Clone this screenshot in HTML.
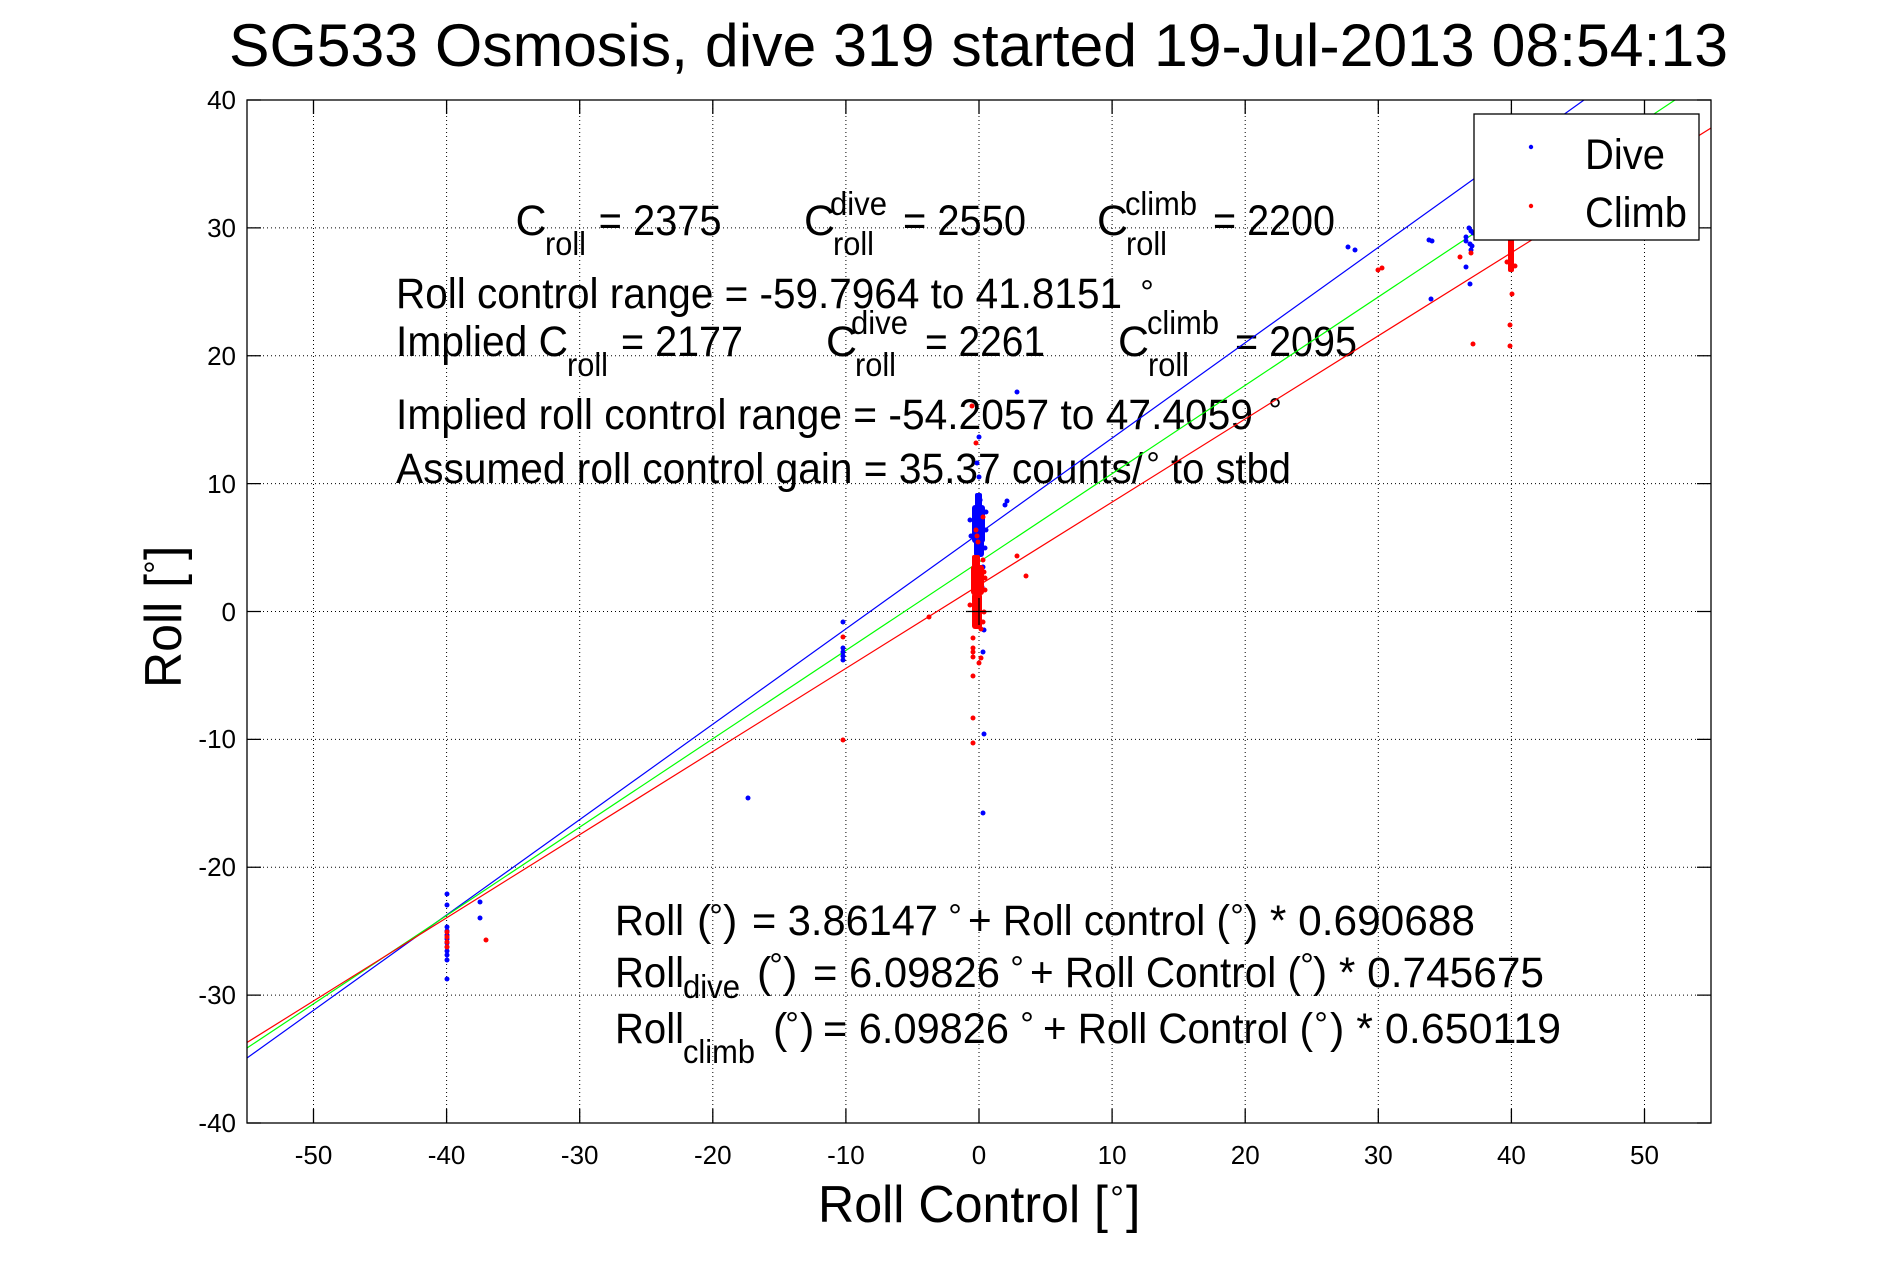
<!DOCTYPE html>
<html>
<head>
<meta charset="utf-8">
<style>
  html,body{margin:0;padding:0;background:#fff;}
  svg{display:block;}
  text{font-family:"Liberation Sans",Arial,Helvetica,sans-serif;fill:#000;}
</style>
</head>
<body>
<svg width="1891" height="1262" viewBox="0 0 1891 1262" xmlns="http://www.w3.org/2000/svg">
<rect x="0" y="0" width="1891" height="1262" fill="#fff"/>

<!-- Title -->
<text x="229" y="66" font-size="60" textLength="1499" lengthAdjust="spacingAndGlyphs">SG533 Osmosis, dive 319 started 19-Jul-2013 08:54:13</text>

<!-- plot background -->
<rect x="247" y="100" width="1464" height="1023" fill="#fff"/>

<!-- grid lines -->
<g stroke="#000" stroke-width="1" stroke-dasharray="1 3" fill="none">
  <path d="M313.5 100V1123M446.6 100V1123M579.7 100V1123M712.8 100V1123M845.9 100V1123M979 100V1123M1112.1 100V1123M1245.2 100V1123M1378.3 100V1123M1511.4 100V1123M1644.5 100V1123"/>
  <path d="M247 227.9H1711M247 355.75H1711M247 483.6H1711M247 611.5H1711M247 739.4H1711M247 867.25H1711M247 995.1H1711"/>
</g>

<!-- ticks -->
<g stroke="#000" stroke-width="1.3" fill="none">
  <path d="M313.5 1123v-14M446.6 1123v-14M579.7 1123v-14M712.8 1123v-14M845.9 1123v-14M979 1123v-14M1112.1 1123v-14M1245.2 1123v-14M1378.3 1123v-14M1511.4 1123v-14M1644.5 1123v-14"/>
  <path d="M313.5 100v14M446.6 100v14M579.7 100v14M712.8 100v14M845.9 100v14M979 100v14M1112.1 100v14M1245.2 100v14M1378.3 100v14M1511.4 100v14M1644.5 100v14"/>
  <path d="M247 100h14M247 227.9h14M247 355.75h14M247 483.6h14M247 611.5h14M247 739.4h14M247 867.25h14M247 995.1h14M247 1123h14"/>
  <path d="M1711 100h-14M1711 227.9h-14M1711 355.75h-14M1711 483.6h-14M1711 611.5h-14M1711 739.4h-14M1711 867.25h-14M1711 995.1h-14M1711 1123h-14"/>
</g>

<!-- annotation texts (drawn under data) -->
<g font-size="43">
  <!-- line 1 -->
  <text x="515.5" y="235">C</text>
  <text x="545" y="255" font-size="33" textLength="41" lengthAdjust="spacingAndGlyphs">roll</text>
  <text x="598.6" y="235" textLength="123" lengthAdjust="spacingAndGlyphs">= 2375</text>
  <text x="804" y="235">C</text>
  <text x="830" y="215" font-size="33" textLength="57" lengthAdjust="spacingAndGlyphs">dive</text>
  <text x="833" y="255" font-size="33" textLength="41" lengthAdjust="spacingAndGlyphs">roll</text>
  <text x="903" y="235" textLength="123" lengthAdjust="spacingAndGlyphs">= 2550</text>
  <text x="1097" y="235">C</text>
  <text x="1125" y="215" font-size="33" textLength="72" lengthAdjust="spacingAndGlyphs">climb</text>
  <text x="1126" y="255" font-size="33" textLength="41" lengthAdjust="spacingAndGlyphs">roll</text>
  <text x="1213" y="235" textLength="122" lengthAdjust="spacingAndGlyphs">= 2200</text>

  <!-- line 2 -->
  <text x="396" y="308" textLength="726" lengthAdjust="spacingAndGlyphs">Roll control range = -59.7964 to 41.8151</text>
  <text x="1147" y="304" font-size="34" text-anchor="middle">°</text>

  <!-- line 3 -->
  <text x="396" y="356" textLength="172" lengthAdjust="spacingAndGlyphs">Implied C</text>
  <text x="567" y="376" font-size="33" textLength="41" lengthAdjust="spacingAndGlyphs">roll</text>
  <text x="621" y="356" textLength="122" lengthAdjust="spacingAndGlyphs">= 2177</text>
  <text x="826" y="356">C</text>
  <text x="851" y="334" font-size="33" textLength="57" lengthAdjust="spacingAndGlyphs">dive</text>
  <text x="855" y="376" font-size="33" textLength="41" lengthAdjust="spacingAndGlyphs">roll</text>
  <text x="925" y="356" textLength="120" lengthAdjust="spacingAndGlyphs">= 2261</text>
  <text x="1118" y="356">C</text>
  <text x="1147" y="334" font-size="33" textLength="72" lengthAdjust="spacingAndGlyphs">climb</text>
  <text x="1148" y="376" font-size="33" textLength="41" lengthAdjust="spacingAndGlyphs">roll</text>
  <text x="1235" y="356" textLength="122" lengthAdjust="spacingAndGlyphs">= 2095</text>

  <!-- line 4 -->
  <text x="396" y="429" textLength="857" lengthAdjust="spacingAndGlyphs">Implied roll control range = -54.2057 to 47.4059</text>
  <text x="1275" y="422" font-size="34" text-anchor="middle">°</text>

  <!-- line 5 -->
  <text x="396" y="483" textLength="747" lengthAdjust="spacingAndGlyphs">Assumed roll control gain = 35.37 counts/</text>
  <text x="1153" y="476" font-size="34" text-anchor="middle">°</text>
  <text x="1171" y="483" textLength="120" lengthAdjust="spacingAndGlyphs">to stbd</text>

  <!-- lower equation A -->
  <text x="615" y="935" textLength="69" lengthAdjust="spacingAndGlyphs">Roll</text>
  <text x="697" y="935">(</text>
  <text x="716" y="928" font-size="34" text-anchor="middle">°</text>
  <text x="723" y="935">)</text>
  <text x="752" y="935" textLength="186" lengthAdjust="spacingAndGlyphs">= 3.86147</text>
  <text x="955" y="928" font-size="34" text-anchor="middle">°</text>
  <text x="968" y="935" textLength="262" lengthAdjust="spacingAndGlyphs">+ Roll control (</text>
  <text x="1237" y="928" font-size="34" text-anchor="middle">°</text>
  <text x="1244" y="935" textLength="231" lengthAdjust="spacingAndGlyphs">) * 0.690688</text>

  <!-- lower equation B -->
  <text x="615" y="987" textLength="69" lengthAdjust="spacingAndGlyphs">Roll</text>
  <text x="683" y="998" font-size="33" textLength="57" lengthAdjust="spacingAndGlyphs">dive</text>
  <text x="757" y="987">(</text>
  <text x="776" y="977" font-size="34" text-anchor="middle">°</text>
  <text x="783" y="987">)</text>
  <text x="813" y="987" textLength="187" lengthAdjust="spacingAndGlyphs">= 6.09826</text>
  <text x="1017" y="980" font-size="34" text-anchor="middle">°</text>
  <text x="1030" y="987" textLength="271" lengthAdjust="spacingAndGlyphs">+ Roll Control (</text>
  <text x="1307" y="977" font-size="34" text-anchor="middle">°</text>
  <text x="1313" y="987" textLength="231" lengthAdjust="spacingAndGlyphs">) * 0.745675</text>

  <!-- lower equation C -->
  <text x="615" y="1043" textLength="69" lengthAdjust="spacingAndGlyphs">Roll</text>
  <text x="683" y="1063" font-size="33" textLength="72" lengthAdjust="spacingAndGlyphs">climb</text>
  <text x="773" y="1043">(</text>
  <text x="792" y="1036" font-size="34" text-anchor="middle">°</text>
  <text x="800" y="1043">)</text>
  <text x="823" y="1043" textLength="186" lengthAdjust="spacingAndGlyphs">= 6.09826</text>
  <text x="1027" y="1036" font-size="34" text-anchor="middle">°</text>
  <text x="1043" y="1043" textLength="270" lengthAdjust="spacingAndGlyphs">+ Roll Control (</text>
  <text x="1321" y="1036" font-size="34" text-anchor="middle">°</text>
  <text x="1330" y="1043" textLength="231" lengthAdjust="spacingAndGlyphs">) * 0.650119</text>
</g>

<!-- fit lines, clipped to axes -->
<defs>
  <clipPath id="ax"><rect x="247" y="100" width="1464" height="1023"/></clipPath>
</defs>
<g clip-path="url(#ax)" fill="none" stroke-width="1.2">
  <line x1="247" y1="1058" x2="1584" y2="100" stroke="#0000ff"/>
  <line x1="247" y1="1048" x2="1675" y2="100" stroke="#00ff00"/>
  <line x1="247" y1="1042.5" x2="1711" y2="128" stroke="#ff0000"/>
</g>

<!-- dive points (blue) -->
<g fill="#0000ff">
  <circle cx="447" cy="894" r="2.5"/><circle cx="447" cy="905" r="2.5"/><circle cx="447" cy="927" r="2.5"/>
  <circle cx="447" cy="931" r="2.5"/><circle cx="447" cy="935" r="2.5"/><circle cx="447" cy="939" r="2.5"/>
  <circle cx="447" cy="943" r="2.5"/><circle cx="447" cy="947" r="2.5"/><circle cx="447" cy="951" r="2.5"/>
  <circle cx="447" cy="955" r="2.5"/><circle cx="447" cy="960" r="2.5"/><circle cx="447" cy="979" r="2.5"/>
  <circle cx="480" cy="902" r="2.5"/><circle cx="480" cy="918" r="2.5"/>
  <circle cx="843" cy="622" r="2.5"/><circle cx="843" cy="648" r="2.5"/><circle cx="843" cy="652" r="2.5"/>
  <circle cx="843" cy="656" r="2.5"/><circle cx="843" cy="660" r="2.5"/>
  <circle cx="748" cy="798" r="2.5"/>
  <circle cx="1017" cy="392" r="2.5"/><circle cx="979" cy="437" r="2.5"/><circle cx="977" cy="463" r="2.5"/>
  <circle cx="979" cy="477" r="2.5"/><circle cx="1007" cy="501" r="2.5"/><circle cx="1005" cy="505" r="2.5"/>
  <circle cx="983" cy="567" r="2.5"/><circle cx="982" cy="587" r="2.5"/><circle cx="984" cy="630" r="2.5"/>
  <circle cx="983" cy="652" r="2.5"/><circle cx="984" cy="734" r="2.5"/><circle cx="983" cy="813" r="2.5"/>
  <!-- center dive cluster -->
  <rect x="975" y="493" width="7" height="14" rx="2"/>
  <rect x="972" y="505" width="13" height="38" rx="3"/>
  <rect x="974" y="540" width="10" height="17" rx="3"/>
  <circle cx="986" cy="512" r="2.5"/><circle cx="970" cy="520" r="2.5"/><circle cx="986" cy="530" r="2.5"/>
  <circle cx="971" cy="536" r="2.5"/><circle cx="985" cy="548" r="2.5"/><circle cx="977" cy="559" r="2.5"/>
  <circle cx="978" cy="497" r="2.6"/><circle cx="980" cy="500" r="2.6"/>
  <!-- right -->
  <circle cx="1348" cy="247" r="2.5"/><circle cx="1355" cy="250" r="2.5"/><circle cx="1429" cy="240" r="2.5"/>
  <circle cx="1432" cy="241" r="2.5"/><circle cx="1469" cy="228" r="2.5"/><circle cx="1471" cy="231" r="2.5"/>
  <circle cx="1473" cy="233" r="2.5"/><circle cx="1466" cy="237" r="2.5"/><circle cx="1466" cy="241" r="2.5"/>
  <circle cx="1470" cy="244" r="2.5"/><circle cx="1472" cy="246" r="2.5"/><circle cx="1471" cy="250" r="2.5"/>
  <circle cx="1466" cy="267" r="2.5"/><circle cx="1470" cy="284" r="2.5"/><circle cx="1431" cy="299" r="2.5"/>
</g>

<!-- climb points (red) -->
<g fill="#ff0000">
  <circle cx="447" cy="932" r="2.5"/><circle cx="447" cy="937" r="2.5"/><circle cx="447" cy="942" r="2.5"/>
  <circle cx="447" cy="947" r="2.5"/><circle cx="486" cy="940" r="2.5"/>
  <circle cx="843" cy="637" r="2.5"/><circle cx="843" cy="740" r="2.5"/>
  <circle cx="929" cy="617" r="2.5"/>
  <circle cx="972" cy="406" r="2.5"/><circle cx="976" cy="443" r="2.5"/><circle cx="976" cy="530" r="2.5"/>
  <circle cx="977" cy="536" r="2.5"/><circle cx="978" cy="542" r="2.5"/><circle cx="983" cy="517" r="2.5"/>
  <circle cx="1017" cy="556" r="2.5"/><circle cx="1026" cy="576" r="2.5"/>
  <circle cx="973" cy="638" r="2.5"/><circle cx="973" cy="648" r="2.5"/><circle cx="973" cy="652" r="2.5"/>
  <circle cx="973" cy="657" r="2.5"/><circle cx="979" cy="663" r="2.5"/><circle cx="981" cy="658" r="2.5"/>
  <circle cx="973" cy="676" r="2.5"/><circle cx="973" cy="718" r="2.5"/><circle cx="973" cy="743" r="2.5"/>
  <circle cx="981" cy="629" r="2.5"/><circle cx="984" cy="572" r="2.5"/><circle cx="983" cy="560" r="2.5"/>
  <!-- center climb cluster -->
  <rect x="972" y="555" width="8" height="12" rx="2"/>
  <rect x="971" y="565" width="13" height="30" rx="3"/>
  <rect x="972" y="593" width="10" height="36" rx="3"/>
  <circle cx="985" cy="578" r="2.5"/><circle cx="985" cy="590" r="2.5"/><circle cx="970" cy="605" r="2.5"/>
  <circle cx="984" cy="612" r="2.5"/><circle cx="983" cy="622" r="2.5"/>
  <!-- right -->
  <circle cx="1378" cy="270" r="2.5"/><circle cx="1382" cy="268" r="2.5"/><circle cx="1460" cy="257" r="2.5"/>
  <circle cx="1471" cy="253" r="2.5"/><circle cx="1473" cy="344" r="2.5"/>
  <rect x="1508" y="228" width="6" height="44" rx="2"/>
  <circle cx="1507" cy="262" r="2.5"/><circle cx="1515" cy="266" r="2.5"/>
  <circle cx="1512" cy="294" r="2.5"/><circle cx="1510" cy="325" r="2.5"/><circle cx="1510" cy="346" r="2.5"/>
</g>

<!-- origin cross -->
<g stroke="#000" stroke-width="1.3">
  <line x1="966" y1="611.5" x2="992" y2="611.5"/>
  <line x1="979" y1="598" x2="979" y2="625"/>
</g>

<!-- axes box -->
<rect x="247" y="100" width="1464" height="1023" fill="none" stroke="#000" stroke-width="1.3"/>

<!-- legend -->
<rect x="1474" y="114" width="225" height="126" fill="#fff" stroke="#000" stroke-width="1.3"/>
<circle cx="1531" cy="147" r="2.2" fill="#0000ff"/>
<circle cx="1531" cy="206" r="2.2" fill="#ff0000"/>
<text x="1585" y="169" font-size="43" textLength="80" lengthAdjust="spacingAndGlyphs">Dive</text>
<text x="1585" y="227" font-size="43" textLength="102" lengthAdjust="spacingAndGlyphs">Climb</text>

<!-- x tick labels -->
<g font-size="26" text-anchor="middle">
  <text x="313.5" y="1164">-50</text>
  <text x="446.6" y="1164">-40</text>
  <text x="579.7" y="1164">-30</text>
  <text x="712.8" y="1164">-20</text>
  <text x="845.9" y="1164">-10</text>
  <text x="979" y="1164">0</text>
  <text x="1112.1" y="1164">10</text>
  <text x="1245.2" y="1164">20</text>
  <text x="1378.3" y="1164">30</text>
  <text x="1511.4" y="1164">40</text>
  <text x="1644.5" y="1164">50</text>
</g>

<!-- y tick labels -->
<g font-size="26" text-anchor="end">
  <text x="236" y="109">40</text>
  <text x="236" y="237">30</text>
  <text x="236" y="365">20</text>
  <text x="236" y="493">10</text>
  <text x="236" y="621">0</text>
  <text x="236" y="748">-10</text>
  <text x="236" y="876">-20</text>
  <text x="236" y="1004">-30</text>
  <text x="236" y="1132">-40</text>
</g>

<!-- x label -->
<text x="818" y="1222" font-size="52" textLength="290" lengthAdjust="spacingAndGlyphs">Roll Control [</text>
<text x="1117" y="1210" font-size="34" text-anchor="middle">°</text>
<text x="1126" y="1222" font-size="52">]</text>

<!-- y label -->
<g transform="translate(181,614) rotate(-90)">
  <text x="-74" y="0" font-size="52" textLength="114" lengthAdjust="spacingAndGlyphs">Roll [</text>
  <text x="47" y="-12.5" font-size="34" text-anchor="middle">°</text>
  <text x="54" y="0" font-size="52">]</text>
</g>
</svg>
</body>
</html>
